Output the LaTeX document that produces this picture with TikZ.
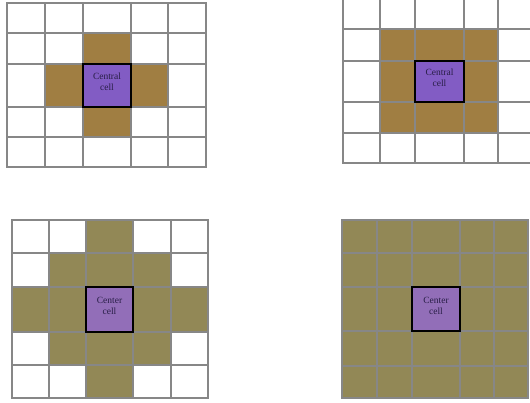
\documentclass[tikz,border=0pt]{standalone}
\usepackage{fontspec}
\setmainfont{Liberation Serif}
\usepackage{tikz}
\usetikzlibrary{fit}
\definecolor{marromviz}{RGB}{160,126,66}
\definecolor{olivaviz}{RGB}{146,136,86}
\definecolor{roxocentro}{RGB}{130,92,196}
\definecolor{lilascentro}{RGB}{146,110,184}
\definecolor{azulnoite}{RGB}{40,30,70}
\definecolor{cinzalinha}{RGB}{135,135,135}
\tikzset{
  celula/.style={draw=cinzalinha,line width=1.3pt},
  vizinho/.style={fill=#1},
  centro/.style={rectangle,draw=black,line width=1.2pt,fill=#1,text=azulnoite,
    align=center,inner sep=0pt,font=\fontsize{9.5}{11}\selectfont}
}
% #1 colunas, #2 linhas, #3 distancia, #4 raio, #5 cor vizinho, #6 cor centro, #7 texto, #8 nome
\newcommand{\grade}[8]{%
  % primeiro os preenchimentos
  \foreach \xa/\xb/\i in {#1}{
    \foreach \ya/\yb/\j in {#2}{
      \pgfmathtruncatemacro{\dist}{#3}
      \ifnum\dist>#4\else
        \fill[vizinho=#5] (\xa,\ya) rectangle (\xb,\yb);
      \fi
      \ifnum\dist=0
        \coordinate (#8a) at (\xa,\ya);
        \coordinate (#8b) at (\xb,\yb);
      \fi
    }
  }
  % depois as bordas
  \foreach \xa/\xb/\i in {#1}{
    \foreach \ya/\yb/\j in {#2}{
      \draw[celula] (\xa,\ya) rectangle (\xb,\yb);
    }
  }
  \node[centro=#6,fit=(#8a)(#8b)] (#8) {#7};
}

\begin{document}
\begin{tikzpicture}[x=1pt,y=-1pt]
\useasboundingbox (0,0) rectangle (530,402);
% vizinhanca de von Neumann, raio 1
\grade{7/45/-2,45/83/-1,83/131/0,131/168/1,168/206/2}
      {3/33/-2,33/64/-1,64/107/0,107/137/1,137/167/2}
      {abs(\i)+abs(\j)}{1}{marromviz}{roxocentro}{Central\\cell}{vn1}
% vizinhanca de Moore, raio 1
\grade{343/380/-2,380/415/-1,415/464/0,464/498/1,498/533/2}
      {-1/29/-2,29/61/-1,61/102/0,102/133/1,133/163/2}
      {max(abs(\i),abs(\j))}{1}{marromviz}{roxocentro}{Central\\cell}{mo1}
% vizinhanca de von Neumann, raio 2
\grade{12/49/-2,49/86/-1,86/133/0,133/171/1,171/208/2}
      {220/253/-2,253/287/-1,287/332/0,332/365/1,365/398/2}
      {abs(\i)+abs(\j)}{2}{olivaviz}{lilascentro}{Center\\cell}{vn2}
% vizinhanca de Moore, raio 2
\grade{342/377/-2,377/412/-1,412/460/0,460/494/1,494/528/2}
      {220/253/-2,253/287/-1,287/331/0,331/366/1,366/398/2}
      {max(abs(\i),abs(\j))}{2}{olivaviz}{lilascentro}{Center\\cell}{mo2}
\end{tikzpicture}
\end{document}
